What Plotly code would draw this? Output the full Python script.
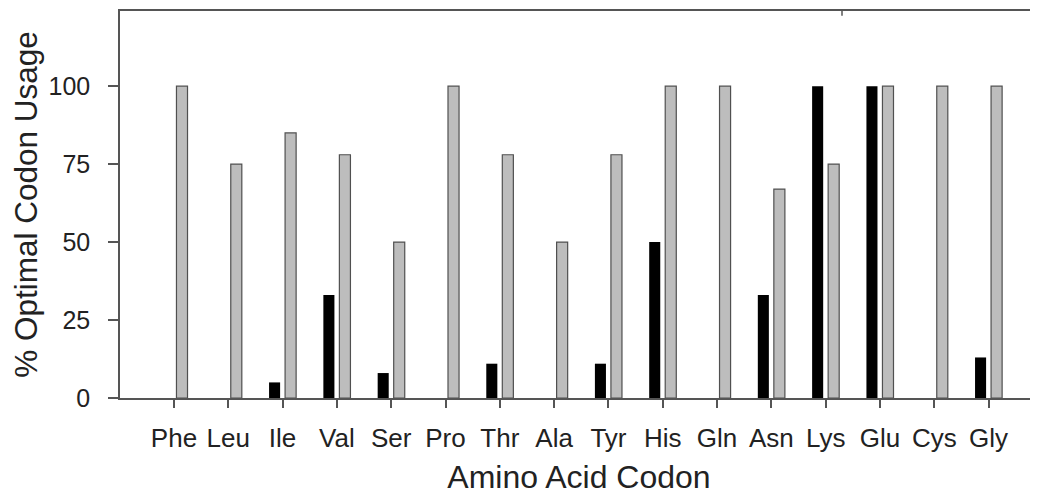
import plotly.graph_objects as go

categories = ["Phe", "Leu", "Ile", "Val", "Ser", "Pro", "Thr", "Ala",
              "Tyr", "His", "Gln", "Asn", "Lys", "Glu", "Cys", "Gly"]
black_values = [0, 0, 5, 33, 8, 0, 11, 0, 11, 50, 0, 33, 100, 100, 0, 13]
gray_values = [100, 75, 85, 78, 50, 100, 78, 50, 78, 100, 100, 67, 75, 100, 100, 100]
y_tick_vals = [0, 25, 50, 75, 100]

FONT = "Liberation Sans, Arial, Helvetica, sans-serif"
AXIS_COLOR = "#555555"
TEXT_COLOR = "#222222"

fig = go.Figure()
fig.add_trace(go.Bar(
    x=categories, y=black_values, name="Black",
    marker=dict(color="black", line=dict(width=0)),
))
fig.add_trace(go.Bar(
    x=categories, y=gray_values, name="Gray",
    marker=dict(color="#bdbdbd", line=dict(color="#505050", width=1.2)),
))

fig.update_layout(
    width=1030, height=487,
    margin=dict(l=112, r=0, t=3, b=97, autoexpand=False),
    paper_bgcolor="white", plot_bgcolor="white",
    barmode="group", bargap=0.41, bargroupgap=0.31,
    showlegend=False,
    font=dict(family=FONT, color=TEXT_COLOR),
)

fig.update_xaxes(
    type="category",
    range=[-0.994, 15.91],
    automargin=False,
    showline=True, linecolor=AXIS_COLOR, linewidth=1.5, mirror=True,
    ticks="outside", ticklen=8, tickwidth=1.5, tickcolor=AXIS_COLOR,
    tickfont=dict(size=26, family=FONT, color=TEXT_COLOR),
    ticklabelstandoff=8,
    showgrid=False, zeroline=False,
    title=dict(text="Amino Acid Codon", font=dict(size=32, family=FONT, color=TEXT_COLOR), standoff=19),
)
fig.update_yaxes(
    range=[0, 124.1],
    tickvals=y_tick_vals,
    automargin=False,
    showline=True, linecolor=AXIS_COLOR, linewidth=1.5,
    ticks="outside", ticklen=10, tickwidth=1.5, tickcolor=AXIS_COLOR,
    tickfont=dict(size=25, family=FONT, color=TEXT_COLOR),
    ticklabelstandoff=13,
    showgrid=False, zeroline=False,
    title=dict(text="% Optimal Codon Usage", font=dict(size=31.5, family=FONT, color=TEXT_COLOR), standoff=6),
)

# small tick mark on the top frame line seen in the original
fig.add_shape(type="line", xref="paper", yref="paper",
              x0=0.7865, x1=0.7865, y0=1, y1=0.988,
              line=dict(color=AXIS_COLOR, width=1.5))

fig.write_html("out.html")
